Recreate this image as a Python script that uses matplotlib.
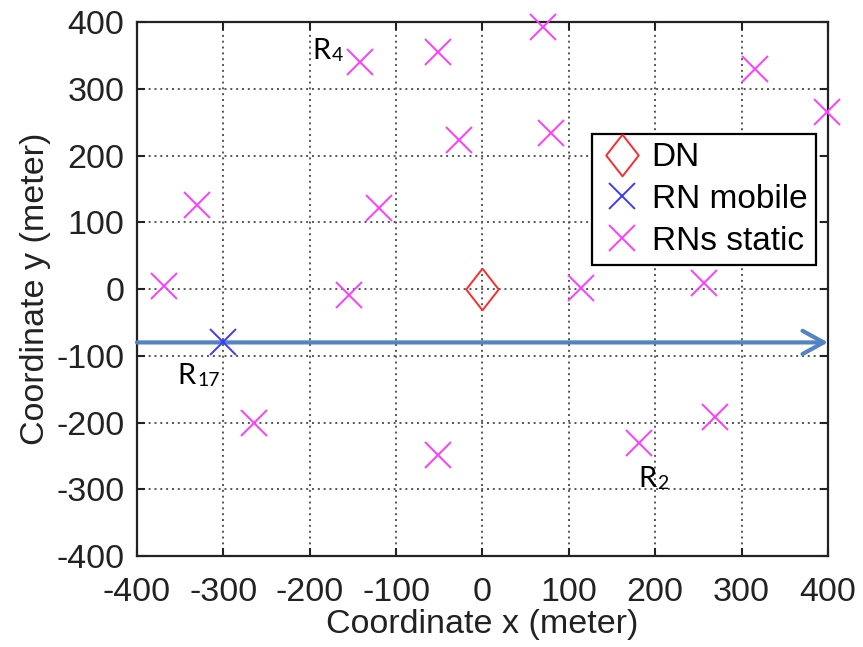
import numpy as np
import matplotlib.pyplot as plt
from matplotlib.lines import Line2D

plt.rcParams['font.family'] = ['Liberation Sans', 'DejaVu Sans']
plt.rcParams['axes.unicode_minus'] = False

# node positions (meter)
dn_x = [0]
dn_y = [0]

mobile_x = [-300]
mobile_y = [-80]

static_x = [70, -52, -142, 316, 399, -27, 79, -330, -120, -369, -155, 114, 257, -265, -51, 181, 269]
static_y = [393, 355, 340, 329, 265, 223, 233, 126, 121, 5, -9, 2, 9, -201, -249, -231, -192]

# trajectory of the mobile relay
path_x = [-400, 400]
path_y = [-80, -80]

# annotated relays: (name, index, text x, text y)
relay_labels = [('R', '17', -353, -142), ('R', '4', -197, 345), ('R', '2', 180, -297)]

ticks = np.arange(-400, 401, 100)

diamond = [(0, 1), (0.78, 0), (0, -1), (-0.78, 0), (0, 1)]
tick_fs = 24.5
label_fs = 24.5
ink = '#222222'

fig = plt.figure(figsize=(8.63, 6.47), dpi=100)
ax = fig.add_axes([0.1587, 0.1406, 0.8007, 0.8254])

ax.annotate('', xy=(path_x[1], path_y[1]), xytext=(path_x[0], path_y[0]),
            arrowprops=dict(arrowstyle='->,head_length=0.4,head_width=0.22',
                            color='#5284c4', lw=3, mutation_scale=38,
                            shrinkA=0, shrinkB=0), zorder=3)

ax.plot(dn_x, dn_y, linestyle='none', marker=diamond, markersize=30, clip_on=False,
        markerfacecolor='none', markeredgecolor='#ff2a2a', markeredgewidth=1.4, zorder=4)
ax.plot(mobile_x, mobile_y, linestyle='none', marker='x', markersize=19, clip_on=False,
        color='#3b3bff', markeredgewidth=1.4, zorder=4)
ax.plot(static_x, static_y, linestyle='none', marker='x', markersize=19, clip_on=False,
        color='#ff3cff', markeredgewidth=1.4, zorder=4)

for name, idx, tx, ty in relay_labels:
    t = ax.text(tx, ty, name, fontsize=21, family=['Lato', 'DejaVu Sans'],
                ha='left', va='baseline', color='black', zorder=5)
    ax.annotate(idx, xy=(1, 0), xycoords=t, fontsize=14, family=['Lato', 'DejaVu Sans'],
                ha='left', va='bottom', xytext=(1, 0), textcoords='offset points', zorder=5)

ax.set_xlim(-400, 400)
ax.set_ylim(-400, 400)
ax.set_xticks(ticks)
ax.set_yticks(ticks)
ax.grid(True, linestyle=(0, (1, 2)), linewidth=1.4, color='#555555')
ax.set_axisbelow(True)

ax.tick_params(direction='in', length=6, width=1.5, top=True, right=True,
               labelsize=tick_fs, colors=ink)
ax.tick_params(axis='x', pad=15)
ax.tick_params(axis='y', pad=9)
for sp in ax.spines.values():
    sp.set_linewidth(1.6)
    sp.set_color(ink)

ax.set_xlabel('Coordinate x (meter)', fontsize=label_fs, color=ink, labelpad=1)
ax.set_ylabel('Coordinate y (meter)', fontsize=label_fs, color=ink, labelpad=4)

handles = [
    Line2D([], [], linestyle='none', marker=diamond, markersize=30, markerfacecolor='none',
           markeredgecolor='#ff2a2a', markeredgewidth=1.4),
    Line2D([], [], linestyle='none', marker='x', markersize=19, color='#3b3bff', markeredgewidth=1.4),
    Line2D([], [], linestyle='none', marker='x', markersize=19, color='#ff3cff', markeredgewidth=1.4),
]
leg = ax.legend(handles, ['DN', 'RN mobile', 'RNs static'], loc='upper left',
                bbox_to_anchor=(0.658, 0.790), prop={'size': 24}, frameon=True, fancybox=False,
                framealpha=1, edgecolor='black', handlelength=1.3, handletextpad=0.25,
                labelspacing=0.32, borderpad=0.25, borderaxespad=0)
leg.get_frame().set_linewidth(1.6)
leg.set_zorder(6)

fig.savefig('out.png', dpi=100)
